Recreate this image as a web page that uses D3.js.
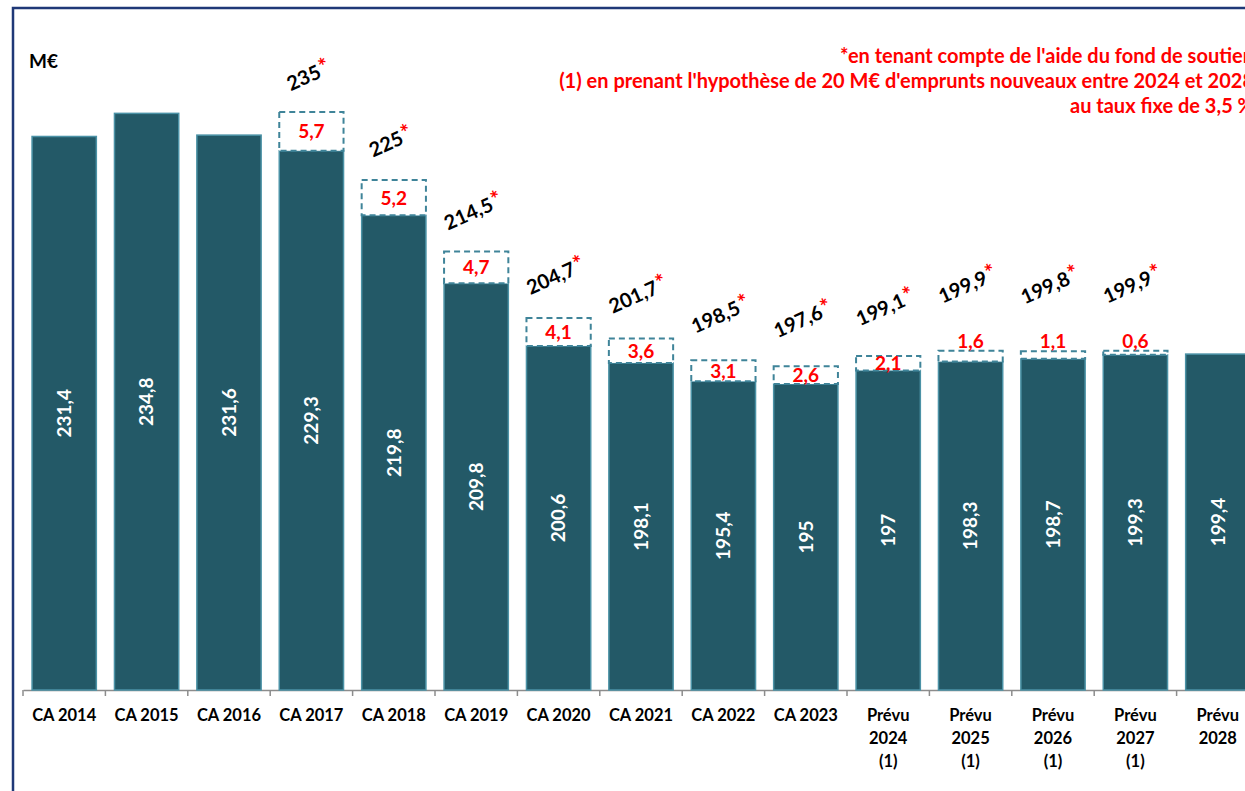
<!DOCTYPE html>
<html>
<head>
<meta charset="utf-8">
<script src="https://cdn.jsdelivr.net/npm/d3@7"></script>
<style>
  html, body { margin: 0; padding: 0; background: #fff; overflow: hidden; }
  text { font-family: Lato, "Open Sans", sans-serif; font-weight: bold; }
</style>
</head>
<body>
<div id="container"></div>
<script>
// categories (x labels, multi-line)
let categories = [
  ["CA 2014"], ["CA 2015"], ["CA 2016"], ["CA 2017"], ["CA 2018"],
  ["CA 2019"], ["CA 2020"], ["CA 2021"], ["CA 2022"], ["CA 2023"],
  ["Prévu", "2024", "(1)"], ["Prévu", "2025", "(1)"], ["Prévu", "2026", "(1)"],
  ["Prévu", "2027", "(1)"], ["Prévu", "2028"]
];
// base series (bars)
let baseValues = [231.4, 234.8, 231.6, 229.3, 219.8, 209.8, 200.6, 198.1, 195.4, 195, 197, 198.3, 198.7, 199.3, 199.4];
// fonds de soutien (dashed boxes stacked on top)
let extraValues = [null, null, null, 5.7, 5.2, 4.7, 4.1, 3.6, 3.1, 2.6, 2.1, 1.6, 1.1, 0.6, null];
// totals shown above, with the red asterisk
let totalValues = [null, null, null, 235, 225, 214.5, 204.7, 201.7, 198.5, 197.6, 199.1, 199.9, 199.8, 199.9, null];

let notes = [
  "*en tenant compte de l'aide du fond de soutien",
  "(1) en prenant l'hypothèse de 20 M€ d'emprunts nouveaux entre 2024 et 2028",
  "au taux fixe de 3,5 %"
];

let w = 1245;
let h = 791;
let baseY = 690;

let fmt = v => String(v).replace(".", ",");

let svg = d3.select("#container")
  .append("svg")
  .attr("width", w)
  .attr("height", h);

// frame
svg.append("rect")
  .attr("x", 13).attr("y", 8)
  .attr("width", w + 20).attr("height", h + 20)
  .attr("fill", "none")
  .attr("stroke", "#1f3877")
  .attr("stroke-width", 2.5);

let data = categories.map((c, i) => ({
  key: "c" + i,
  label: c,
  base: baseValues[i],
  extra: extraValues[i],
  total: totalValues[i]
}));

let xScale = d3.scaleBand()
  .domain(data.map(d => d.key))
  .range([23, 23 + 15 * 82.4])
  .paddingInner(0.22)
  .paddingOuter(0.11);

let yScale = d3.scaleLinear().domain([150, 250]).range([baseY, baseY - 680]);

// axis
let xAxis = d3.axisBottom(xScale).tickSize(0).tickFormat("");
let axisG = svg.append("g").attr("transform", "translate(0," + baseY + ")").call(xAxis);
axisG.select(".domain").attr("stroke", "#8c8c8c").attr("stroke-width", 1.5);
// tick marks between categories
let step = xScale.step();
let tickPos = d3.range(16).map(i => xScale.range()[0] + i * step);
axisG.selectAll(".sep").data(tickPos).enter()
  .append("line")
  .attr("class", "sep")
  .attr("x1", d => d).attr("x2", d => d)
  .attr("y1", 0).attr("y2", 6)
  .attr("stroke", "#8c8c8c")
  .attr("stroke-width", 1.5);

// x labels
let labels = svg.append("g").selectAll("text").data(data).enter()
  .append("text")
  .attr("text-anchor", "middle")
  .attr("font-size", "16.5px")
  .attr("fill", "#000");
labels.each(function (d) {
  let t = d3.select(this);
  d.label.forEach((line, j) => {
    t.append("tspan")
      .attr("x", xScale(d.key) + xScale.bandwidth() / 2)
      .attr("y", 721 + j * 23)
      .text(line);
  });
});

// bars
let bars = svg.append("g");
bars.selectAll("rect").data(data).enter()
  .append("rect")
  .attr("x", d => xScale(d.key))
  .attr("y", d => yScale(d.base))
  .attr("width", xScale.bandwidth())
  .attr("height", d => baseY - yScale(d.base))
  .attr("fill", "#235967")
  .attr("stroke", "#4b92a6")
  .attr("stroke-width", 1.5);

// values inside bars
bars.selectAll("text").data(data).enter()
  .append("text")
  .attr("transform", d => {
    let cx = xScale(d.key) + xScale.bandwidth() / 2;
    let cy = (yScale(d.base) + baseY) / 2;
    return "translate(" + cx + "," + cy + ") rotate(-90)";
  })
  .attr("text-anchor", "middle")
  .attr("dy", "0.36em")
  .attr("font-size", "19px")
  .attr("fill", "#fff")
  .text(d => fmt(d.base));

// dashed boxes
let extraData = data.filter(d => d.extra != null);
let boxes = svg.append("g");
boxes.selectAll("rect").data(extraData).enter()
  .append("rect")
  .attr("x", d => xScale(d.key))
  .attr("y", d => yScale(d.base + d.extra))
  .attr("width", xScale.bandwidth())
  .attr("height", d => yScale(d.base) - yScale(d.base + d.extra))
  .attr("fill", "#fff")
  .attr("stroke", "#3f8499")
  .attr("stroke-width", 2)
  .attr("stroke-dasharray", "6,4");

function extraLabelY(d) {
  let top = yScale(d.base + d.extra);
  let bottom = yScale(d.base);
  if (bottom - top >= 14) return (top + bottom) / 2;
  return top - 10;
}

boxes.selectAll("text").data(extraData).enter()
  .append("text")
  .attr("x", d => xScale(d.key) + xScale.bandwidth() / 2)
  .attr("y", extraLabelY)
  .attr("dy", "0.36em")
  .attr("text-anchor", "middle")
  .attr("font-size", "19px")
  .attr("fill", "#ff0000")
  .text(d => fmt(d.extra));

// totals, rotated
let totals = svg.append("g").selectAll("text").data(extraData).enter()
  .append("text")
  .attr("transform", d => {
    let cx = xScale(d.key) + xScale.bandwidth() / 2 - 3;
    let cy = extraLabelY(d) - 56;
    return "translate(" + cx + "," + cy + ") rotate(-24)";
  })
  .attr("text-anchor", "middle")
  .attr("font-size", "20px")
  .attr("fill", "#000");
totals.append("tspan").attr("dy", "0.36em").text(d => fmt(d.total));
totals.append("tspan").attr("dy", "-0.08em").attr("dx", "1").attr("fill", "#ff0000").attr("font-size", "22px").text("*");

// M€
svg.append("text")
  .attr("x", 29).attr("y", 68)
  .attr("font-size", "19px")
  .attr("fill", "#000")
  .text("M€");

// notes
svg.append("g").selectAll("text").data(notes).enter()
  .append("text")
  .attr("x", 1254)
  .attr("y", (d, i) => 63 + i * 25)
  .attr("text-anchor", "end")
  .attr("font-size", "20px")
  .attr("fill", "#ff0000")
  .text(d => d);
</script>
</body>
</html>
